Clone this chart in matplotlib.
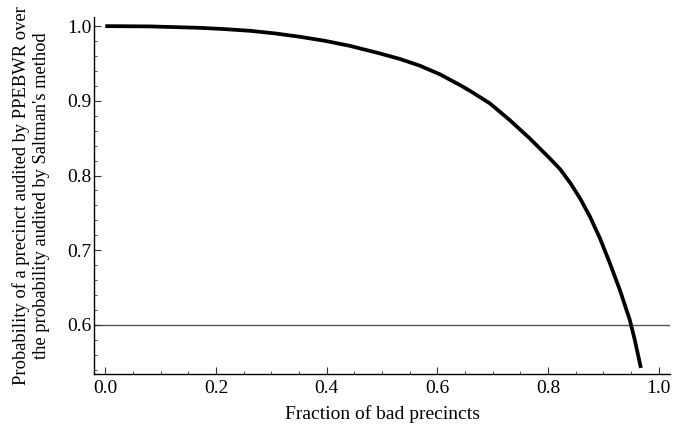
import numpy as np
import matplotlib.pyplot as plt
from matplotlib.ticker import MultipleLocator

plt.rcParams['font.family'] = ['Liberation Serif', 'DejaVu Serif']

# values
frac_bad = [0.0, 0.081, 0.171, 0.216, 0.262, 0.307, 0.352, 0.397, 0.442, 0.460,
            0.496, 0.533, 0.569, 0.605, 0.641, 0.659, 0.695, 0.731, 0.767, 0.804,
            0.822, 0.840, 0.858, 0.876, 0.894, 0.912, 0.930, 0.948, 0.957, 0.968]
ratio = [1.0, 0.9996, 0.9977, 0.9960, 0.9937, 0.9902, 0.9857, 0.9803, 0.9736, 0.9702,
         0.9635, 0.9559, 0.9469, 0.9354, 0.9211, 0.9134, 0.8966, 0.8742, 0.8498, 0.8225,
         0.8085, 0.7905, 0.7695, 0.7449, 0.7160, 0.6825, 0.6468, 0.6067, 0.5799, 0.5425]
axis_y = 0.6

fig = plt.figure(figsize=(6.99, 4.32), dpi=100)
ax = fig.add_axes([0.1345, 0.1343, 0.824, 0.826])

ax.axhline(axis_y, color='#555555', lw=1.0, zorder=1)
ax.plot(frac_bad, ratio, color='black', lw=2.7, solid_capstyle='butt',
        solid_joinstyle='round', zorder=3)

ax.set_xlim(-0.0204, 1.0206)
ax.set_ylim(0.5344, 1.012)

for s in ['top', 'right']:
    ax.spines[s].set_visible(False)
for s in ['left', 'bottom']:
    ax.spines[s].set_linewidth(1.0)

ax.xaxis.set_major_locator(MultipleLocator(0.2))
ax.xaxis.set_minor_locator(MultipleLocator(0.05))
ax.yaxis.set_major_locator(MultipleLocator(0.1))
ax.yaxis.set_minor_locator(MultipleLocator(0.02))
ax.xaxis.set_major_formatter(plt.FormatStrFormatter('%.1f'))
ax.yaxis.set_major_formatter(plt.FormatStrFormatter('%.1f'))

ax.tick_params(which='both', direction='in', color='#333333', labelsize=14)
ax.tick_params(which='major', length=5, width=0.8)
ax.tick_params(which='minor', length=2.5, width=0.6)
ax.tick_params(axis='x', pad=4)
ax.tick_params(axis='y', pad=2)

ax.set_xlabel('Fraction of bad precincts', fontsize=14)
ax.xaxis.set_label_coords(0.5, -0.088)
ax.set_ylabel("Probability of a precinct audited by PPEBWR over\n"
              "the probability audited by Saltman's method",
              fontsize=13.3, linespacing=1.2)
ax.yaxis.set_label_coords(-0.0764, 0.5)

fig.savefig('out.png', dpi=100)
